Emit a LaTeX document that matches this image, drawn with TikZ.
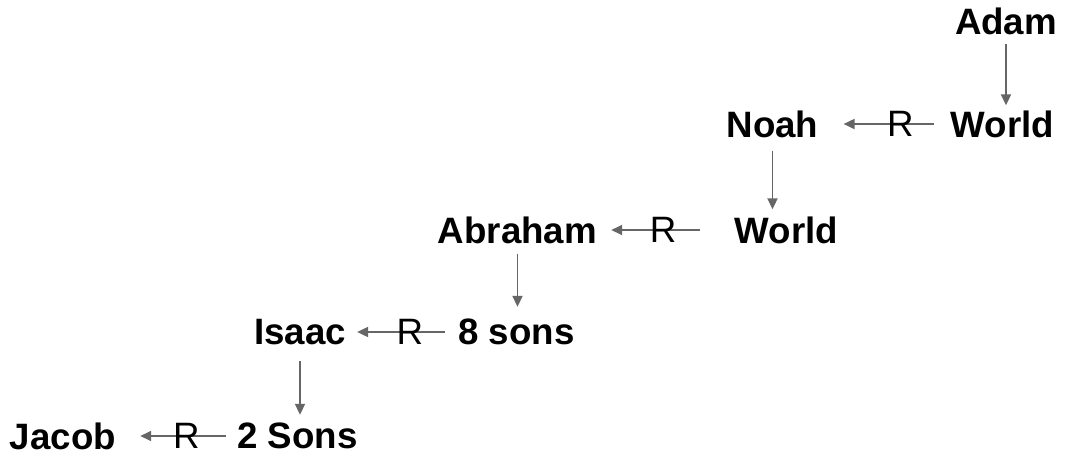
\documentclass[tikz,border=0pt]{standalone}
\usepackage{fontspec}
\setmainfont{Liberation Sans}
\usetikzlibrary{arrows.meta}
\definecolor{linkgray}{HTML}{666666}
\tikzset{
  person/.style={font=\fontsize{36.7}{40}\selectfont\bfseries, inner sep=0pt},
  rel/.style={draw=linkgray, line width=1.8pt, -{Triangle[length=11pt,width=10pt]}},
  rlabel/.style={font=\fontsize{36.7}{40}\selectfont, inner sep=0pt},
}

\begin{document}
\begin{tikzpicture}[x=1pt,y=-1pt]
            \useasboundingbox (0,0) rectangle (1072,459);
            \node[person] (adam) at (1006,21) {Adam};
            \node[person] (world1) at (1002.5,124) {World};
            \node[person] (noah) at (772.5,124) {Noah};
            \node[person] (world2) at (786.5,230) {World};
            \node[person] (abraham) at (517.5,230) {Abraham};
            \node[person] (eight) at (516.5,332) {8 sons};
            \node[person] (isaac) at (300,332) {Isaac};
            \node[person] (two) at (297.5,436) {2 Sons};
            \node[person] (jacob) at (63,436) {Jacob};
            \draw[rel, shorten <=9pt, shorten >=5pt] (adam.south) -- (adam.south |- world1.north);
            \draw[rel, shorten <=17pt, shorten >=25pt] (world1.west) -- node[rlabel, pos=0.38]{R} (noah.east);
            \draw[rel, shorten <=13pt, shorten >=7pt] (noah.south) -- (noah.south |- world2.north);
            \draw[rel, shorten <=35pt, shorten >=14pt] (world2.west) -- node[rlabel, pos=0.52]{R} (abraham.east);
            \draw[rel, shorten <=10pt, shorten >=12pt] (abraham.south) -- (abraham.south |- eight.north);
            \draw[rel, shorten <=13pt, shorten >=11pt] (eight.west) -- node[rlabel, pos=0.43]{R} (isaac.east);
            \draw[rel, shorten <=16pt, shorten >=8pt] (isaac.south) -- (isaac.south |- two.north);
            \draw[rel, shorten <=11pt, shorten >=24pt] (two.west) -- node[rlabel, pos=0.42]{R} (jacob.east);
        \end{tikzpicture}
\end{document}
